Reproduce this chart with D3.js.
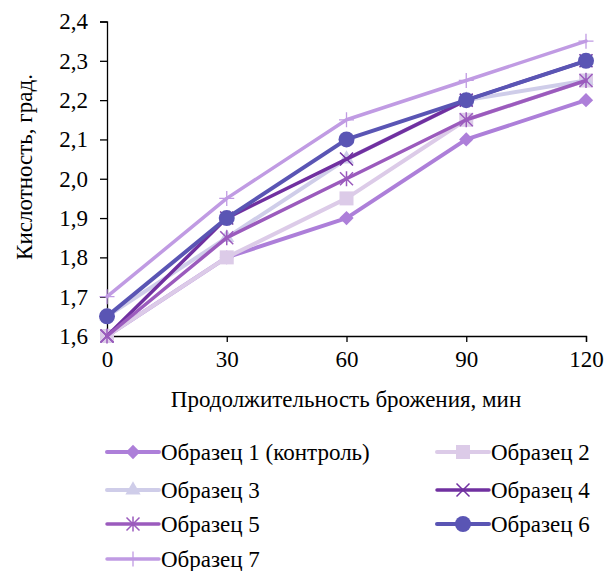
<!DOCTYPE html>
<html>
<head>
<meta charset="utf-8">
<script src="https://cdn.jsdelivr.net/npm/d3@7"></script>
<style>
  html, body { margin: 0; padding: 0; background: #fff; }
  svg text { font-family: "Liberation Serif", "Times New Roman", serif; fill: #000; }
</style>
</head>
<body>
<svg id="chart" width="605" height="571"></svg>
<script>
// Fermentation time, minutes
const minutes = [0, 30, 60, 90, 120];
const yTicks = [1.6, 1.7, 1.8, 1.9, 2.0, 2.1, 2.2, 2.3, 2.4];

// Acidity per sample, degrees
const sample1 = [1.6, 1.8, 1.9, 2.1, 2.2];
const sample2 = [1.6, 1.8, 1.95, 2.15, 2.25];
const sample3 = [1.65, 1.85, 2.05, 2.2, 2.25];
const sample4 = [1.6, 1.9, 2.05, 2.2, 2.3];
const sample5 = [1.6, 1.85, 2.0, 2.15, 2.25];
const sample6 = [1.65, 1.9, 2.1, 2.2, 2.3];
const sample7 = [1.7, 1.95, 2.15, 2.25, 2.35];

const seriesNames = ["Образец 1 (контроль)", "Образец 2", "Образец 3", "Образец 4",
                     "Образец 5", "Образец 6", "Образец 7"];

const series = [
  { name: seriesNames[0], values: sample1, color: "#ad7fd9", width: 4, marker: "diamond" },
  { name: seriesNames[1], values: sample2, color: "#dccbe8", width: 4, marker: "square" },
  { name: seriesNames[2], values: sample3, color: "#cfcde9", width: 4, marker: "triangle" },
  { name: seriesNames[3], values: sample4, color: "#7030a0", width: 3.5, marker: "x" },
  { name: seriesNames[4], values: sample5, color: "#9b5bbd", width: 3.5, marker: "star" },
  { name: seriesNames[5], values: sample6, color: "#5a55b4", width: 4, marker: "circle" },
  { name: seriesNames[6], values: sample7, color: "#c09be3", width: 3.5, marker: "plus" }
];

const FS = 23;
const svg = d3.select("#chart");
const W = 605;

const x = d3.scaleLinear().domain([0, 120]).range([107, 586]);
const y = d3.scaleLinear().domain([1.6, 2.4]).range([336, 21.5]);

const fmt = d => d3.format(".1f")(d).replace(".", ",");

// Axes
const yAxis = svg.append("g")
  .attr("transform", `translate(107,0)`)
  .call(d3.axisLeft(y).tickValues(yTicks).tickFormat(fmt).tickSize(7).tickPadding(12));
const xAxis = svg.append("g")
  .attr("transform", `translate(0,336)`)
  .call(d3.axisBottom(x).tickValues(minutes).tickFormat(d3.format("d")).tickSize(6).tickPadding(9));
[yAxis, xAxis].forEach(a => {
  a.selectAll("path.domain").attr("stroke", "#000").attr("stroke-width", 1.3);
  a.selectAll("line").attr("stroke", "#000").attr("stroke-width", 1.3);
  a.selectAll("text").attr("font-size", FS).attr("font-family", "Liberation Serif");
});

// Axis titles
svg.append("text")
  .attr("transform", `translate(32,167) rotate(-90)`)
  .attr("text-anchor", "middle")
  .attr("font-size", FS)
  .text("Кислотность, град.");
svg.append("text")
  .attr("x", 346).attr("y", 407)
  .attr("text-anchor", "middle")
  .attr("font-size", FS)
  .text("Продолжительность брожения, мин");

// Marker shapes
function drawMarker(g, type, cx, cy, color) {
  if (type === "diamond") {
    g.append("path").attr("d", d3.symbol(d3.symbolDiamond2, 130)())
      .attr("transform", `translate(${cx},${cy})`).attr("fill", color);
  } else if (type === "square") {
    g.append("rect").attr("x", cx - 7).attr("y", cy - 7).attr("width", 14).attr("height", 14).attr("fill", color);
  } else if (type === "triangle") {
    g.append("path").attr("d", d3.symbol(d3.symbolTriangle, 100)())
      .attr("transform", `translate(${cx},${cy})`).attr("fill", color);
  } else if (type === "x") {
    const s = 6.5;
    g.append("path").attr("d", `M${cx - s},${cy - s}L${cx + s},${cy + s}M${cx - s},${cy + s}L${cx + s},${cy - s}`)
      .attr("stroke", color).attr("stroke-width", 1.5).attr("fill", "none");
  } else if (type === "star") {
    const s = 6.5;
    g.append("path").attr("d", `M${cx - s},${cy - s}L${cx + s},${cy + s}M${cx - s},${cy + s}L${cx + s},${cy - s}M${cx},${cy - s - 1}L${cx},${cy + s + 1}`)
      .attr("stroke", color).attr("stroke-width", 1.5).attr("fill", "none");
  } else if (type === "circle") {
    g.append("circle").attr("cx", cx).attr("cy", cy).attr("r", 8).attr("fill", color);
  } else if (type === "plus") {
    const s = 7.5;
    g.append("path").attr("d", `M${cx - s},${cy}L${cx + s},${cy}M${cx},${cy - s}L${cx},${cy + s}`)
      .attr("stroke", color).attr("stroke-width", 1.3).attr("fill", "none");
  }
}

const line = d3.line().x((d, i) => x(minutes[i])).y(d => y(d));

// Lines and markers, in series order
series.forEach(s => {
  const g = svg.append("g");
  g.append("path").datum(s.values).attr("d", line)
    .attr("fill", "none").attr("stroke", s.color).attr("stroke-width", s.width)
    .attr("stroke-linejoin", "round").attr("stroke-linecap", "round");
  s.values.forEach((v, i) => drawMarker(g, s.marker, x(minutes[i]), y(v), s.color));
});

// Legend
const legendPos = [
  [107, 452], [437, 452],
  [107, 490], [437, 490],
  [107, 524], [437, 524],
  [107, 559]
];
series.forEach((s, i) => {
  const [lx, ly] = legendPos[i];
  const g = svg.append("g");
  g.append("line").attr("x1", lx).attr("x2", lx + 52).attr("y1", ly).attr("y2", ly)
    .attr("stroke", s.color).attr("stroke-width", s.width).attr("stroke-linecap", "round");
  drawMarker(g, s.marker, lx + 26, ly, s.color);
  g.append("text").attr("x", lx + 54).attr("y", ly + 8).attr("font-size", FS).text(s.name);
});
</script>
</body>
</html>
